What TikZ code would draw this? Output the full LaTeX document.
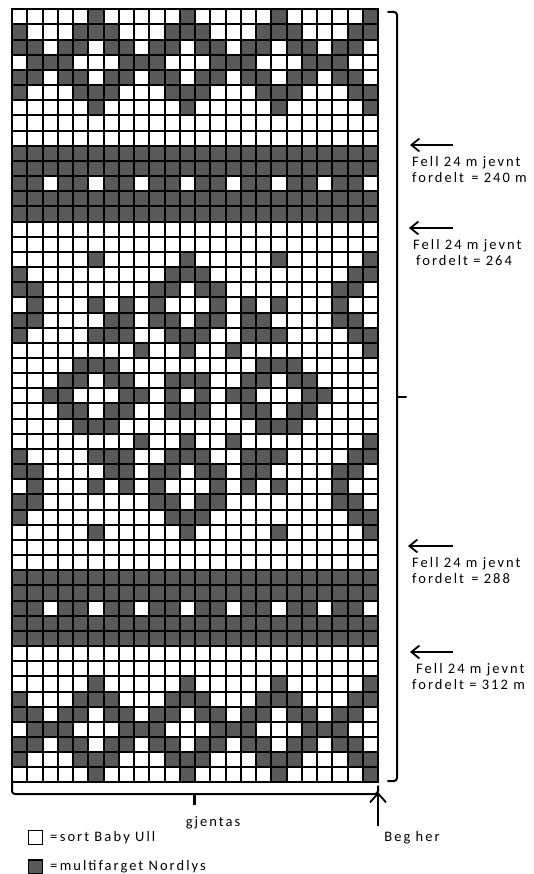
\documentclass[tikz,border=0pt]{standalone}
\usepackage{fontspec}
\setmainfont{Carlito}
\newfontfamily\lblfont[LetterSpace=14]{Carlito}
\usetikzlibrary{arrows.meta}
\definecolor{darkcell}{RGB}{89,89,89}
\begin{document}
\begin{tikzpicture}[x=1pt,y=-1pt,
  lbl/.style={font=\lblfont\fontsize{14.5}{16.5}\selectfont, inner sep=0pt, align=left},
  gridline/.style={line width=2pt, black},
  bracestyle/.style={line width=2pt, black, line cap=round},
  notearrow/.style={line width=1.8pt, -{Straight Barb[length=8pt,width=13pt,line width=1.8pt]}},
  begarrow/.style={line width=1.8pt, -{Straight Barb[length=9pt,width=16pt,line width=1.8pt]}},
  legendbox/.style={draw=black, line width=1.6pt, minimum size=14pt, inner sep=0pt}]
\useasboundingbox (0,0) rectangle (533,874);
\fill[white] (0,0) rectangle (533,874);
\def\gx{12}\def\gdx{15.25}\def\gy{9.3}\def\gdy{15.16}
% dark cells
\foreach \r/\cols in {
  1/{6,12,18,24},
  2/{1,5,6,7,11,12,13,17,18,19,23,24},
  3/{1,2,4,5,7,8,10,11,13,14,16,17,19,20,22,23},
  4/{2,3,4,8,9,10,14,15,16,20,21,22},
  5/{1,2,4,5,7,8,10,11,13,14,16,17,19,20,22,23},
  6/{1,5,6,7,11,12,13,17,18,19,23,24},
  7/{6,12,18,24},
  10/{1,...,24}, 11/{1,...,24},
  12/{1,2,4,5,7,8,10,11,13,14,16,17,19,20,22,23},
  13/{1,...,24}, 14/{1,...,24},
  17/{6,12,18,24},
  18/{1,11,12,13,23,24},
  19/{1,2,10,11,13,14,22,23},
  20/{2,6,8,10,14,16,18,22},
  21/{1,2,7,8,10,11,13,14,16,17,22,23},
  22/{1,6,7,8,11,12,13,16,17,18,23,24},
  23/{9,12,15,24},
  24/{5,6,7,17,18,19},
  25/{4,5,7,8,11,12,13,16,17,19,20},
  26/{3,4,8,9,11,13,15,16,20,21},
  27/{4,5,7,8,11,12,13,16,17,19,20},
  28/{5,6,7,17,18,19},
  29/{9,12,15,24},
  30/{1,6,7,8,11,12,13,16,17,18,23,24},
  31/{1,2,7,8,10,11,13,14,16,17,22,23},
  32/{2,6,8,10,14,16,18,22},
  33/{1,2,10,11,13,14,22,23},
  34/{1,11,12,13,23,24},
  35/{6,12,18,24},
  38/{1,...,24}, 39/{1,...,24},
  40/{1,2,4,5,7,8,10,11,13,14,16,17,19,20,22,23},
  41/{1,...,24}, 42/{1,...,24},
  45/{6,12,18,24},
  46/{1,5,6,7,11,12,13,17,18,19,23,24},
  47/{1,2,4,5,7,8,10,11,13,14,16,17,19,20,22,23},
  48/{2,3,4,8,9,10,14,15,16,20,21,22},
  49/{1,2,4,5,7,8,10,11,13,14,16,17,19,20,22,23},
  50/{1,5,6,7,11,12,13,17,18,19,23,24},
  51/{6,12,18,24}}{
  \foreach \c in \cols {
    \fill[darkcell] ({\gx+(\c-1)*\gdx},{\gy+(\r-1)*\gdy}) rectangle ++(\gdx,\gdy);
  }
}
% grid lines
\foreach \i in {0,...,24}
  \draw[gridline] ({\gx+\i*\gdx},\gy) -- ({\gx+\i*\gdx},{\gy+51*\gdy});
\foreach \j in {0,...,51}
  \draw[gridline] (\gx,{\gy+\j*\gdy}) -- ({\gx+24*\gdx},{\gy+\j*\gdy});
\draw[gridline, line cap=rect] (\gx,\gy) rectangle ({\gx+24*\gdx},{\gy+51*\gdy});

% right brace
\draw[bracestyle, rounded corners=3pt] (388,12) -- (397,12) -- (397,781) -- (388,781);
\draw[bracestyle] (397,396.5) -- (406,396.5);

% notes with arrows
\coordinate (a1tail) at (453,145); \coordinate (a1tip) at (410,145);
\coordinate (a2tail) at (453,228); \coordinate (a2tip) at (409,228);
\coordinate (a3tail) at (453,546); \coordinate (a3tip) at (408,546);
\coordinate (a4tail) at (453,652); \coordinate (a4tip) at (410,652);
\draw[notearrow] (a1tail) -- (a1tip);
\draw[notearrow] (a2tail) -- (a2tip);
\draw[notearrow] (a3tail) -- (a3tip);
\draw[notearrow] (a4tail) -- (a4tip);
\node[lbl, anchor=north west] (n1) at (412,156) {Fell 24 m jevnt\\fordelt\enspace= 240 m};
\node[lbl, anchor=north west] (n2) at (413,239) {Fell 24 m jevnt\\\hspace{3pt}fordelt = 264};
\node[lbl, anchor=north west] (n3) at (412,557) {Fell 24 m jevnt\\fordelt\enspace= 288};
\node[lbl, anchor=north west] (n4) at (412,663) {\hspace{4pt}Fell 24 m jevnt\\fordelt = 312 m};

% bottom brace
\draw[bracestyle, rounded corners=3pt] (12,783) -- (12,794) -- (378,794) -- (378,786);
\draw[line width=3pt] (194.5,794) -- (194.5,805);
\node[lbl, anchor=center] (gj) at (213,823) {gjentas};

% start arrow
\coordinate (begtail) at (378,826); \coordinate (begtip) at (378,792);
\draw[begarrow] (begtail) -- (begtip);
\node[lbl, anchor=center] (beg) at (412,838) {Beg her};

% legend
\node[legendbox, fill=white] (lw) at (35.5,837.5) {};
\node[lbl, anchor=west] (lwt) at (50,838) {=\,sort Ba\,by Ull};
\node[legendbox, fill=darkcell] (ld) at (35.5,867) {};
\node[lbl, anchor=west] (ldt) at (50,867) {=\,multifarget Nordlys};
\end{tikzpicture}
\end{document}
